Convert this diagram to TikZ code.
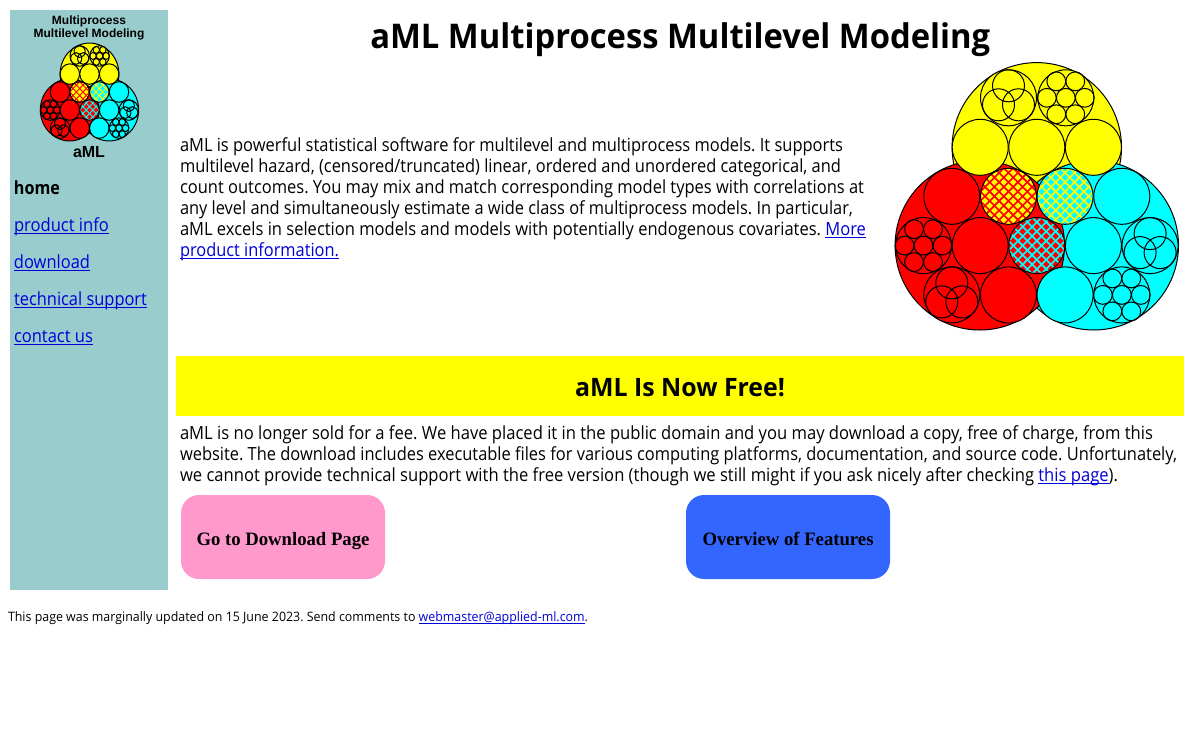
\documentclass[tikz,border=0pt]{standalone}
\usepackage{fontspec}
\setmainfont{Open Sans}
\newfontfamily\hdfont{Liberation Sans}
\newfontfamily\btnfont{Liberation Serif}
\frenchspacing
\definecolor{panel}{HTML}{99CCCC}
\definecolor{linkblue}{HTML}{0000D8}
\definecolor{btnpink}{HTML}{FF99CC}
\definecolor{btnblue}{HTML}{3366FF}
\definecolor{logored}{HTML}{FF0000}
\definecolor{logoyel}{HTML}{FFFF00}
\definecolor{logocya}{HTML}{00FFFF}
\newlength{\fitw}
\newlength{\lnkw}
% text fitted to a target width in px
\newcommand{\fit}[2]{\settowidth{\fitw}{#2}%
  \pgfmathsetmacro{\fitr}{#1*0.75pt/\fitw}\scalebox{\fitr}[1]{#2}}
\newcommand{\lnk}[1]{{\color{linkblue}\settowidth{\lnkw}{#1}\rlap{#1}\rule[-2.2pt]{\lnkw}{0.75pt}}}
\tikzset{
  x=0.75pt,y=-0.75pt,
  txt/.style={anchor=base west,inner sep=0pt,outer sep=0pt,font=\fontsize{13.6pt}{16pt}\selectfont},
  nav/.style={txt},
  foot/.style={anchor=base west,inner sep=0pt,outer sep=0pt,font=\fontsize{9.75pt}{12pt}\selectfont},
  ring/.style={draw=black,line width=0.75pt},
  hd/.style={anchor=center,inner sep=0pt,font=\hdfont\bfseries\fontsize{9pt}{11pt}\selectfont,text=black},
  btn/.style={rounded corners=13.5pt,minimum width=153pt,minimum height=63pt,inner sep=0pt,draw=none,
     text height=12pt,text depth=0pt,
     font=\btnfont\bfseries\fontsize{14.2pt}{16pt}\selectfont},
}
\newcommand{\disc}[4]{\fill[#4] (#1,#2) circle[radius=#3]; \draw[ring] (#1,#2) circle[radius=#3];}
\newcommand{\trio}[3]{%
  \begin{scope}[shift={(#1,#2)}]
  \disc{0}{0}{28}{#3}
  \draw[ring] (0,-12) circle[radius=16] (-10,7) circle[radius=16] (10,7) circle[radius=16];
  \end{scope}}
\newcommand{\seven}[3]{%
  \begin{scope}[shift={(#1,#2)}]
  \disc{0}{0}{28}{#3}
  \foreach \a in {0,60,...,300}{\draw[ring] (\a:19) circle[radius=9.4];}
  \draw[ring] (0,0) circle[radius=9.4];
  \end{scope}}
\newcommand{\checker}[6]{% x,y,bg,fg,half cell,diamond half-diagonal
  \begin{scope}[shift={(#1,#2)}]
  \begin{scope}
  \clip (0,0) circle[radius=28];
  \fill[#3] (-29,-29) rectangle (29,29);
  \foreach \i in {-7,...,7}{\foreach \j in {-7,...,7}{
     \fill[#4] (\i*#5*2-#6,\j*#5*2) -- ++(#6,-#6) -- ++(#6,#6) -- ++(-#6,#6) -- cycle;
     \fill[#4] (\i*#5*2+#5-#6,\j*#5*2+#5) -- ++(#6,-#6) -- ++(#6,#6) -- ++(-#6,#6) -- cycle;}}
  \end{scope}
  \draw[ring] (0,0) circle[radius=28];
  \end{scope}}
\newcommand{\logo}[2]{%
  \disc{0}{-49}{84.7}{logoyel}
  \disc{57}{49}{84.7}{logocya}
  \disc{-57}{49}{84.7}{logored}
  \trio{-28.3}{-98.5}{logoyel}
  \seven{29}{-98.5}{logoyel}
  \disc{-56.6}{-49}{28}{logoyel}
  \disc{0}{-49}{28}{logoyel}
  \disc{56.6}{-49}{28}{logoyel}
  \disc{-85}{0}{28}{logored}
  \checker{-28.3}{0}{logored}{logoyel}{#1}{#2}
  \checker{28.3}{0}{logoyel}{logocya}{#1}{#2}
  \disc{85}{0}{28}{logocya}
  \seven{-113.3}{49.3}{logored}
  \disc{-56.6}{49.3}{28}{logored}
  \checker{0}{49.3}{logocya}{logored}{#1}{#2}
  \disc{56.6}{49.3}{28}{logocya}
  \trio{113.3}{49.3}{logocya}
  \trio{-85}{98.6}{logored}
  \disc{-28.3}{98.6}{28}{logored}
  \disc{28.3}{98.6}{28}{logocya}
  \seven{85}{98.6}{logocya}
}
\begin{document}
\begin{tikzpicture}
\useasboundingbox (0,0) rectangle (1200,740);
\fill[white] (0,0) rectangle (1200,740);
\fill[panel] (10,10) rectangle (168,590);
\node[hd] (t1) at (89,21) {Multiprocess};
\node[hd] (t2) at (89,34.5) {Multilevel Modeling};
\node[hd,font=\hdfont\bfseries\fontsize{12pt}{14pt}\selectfont] (t3) at (89,152) {aML};
\begin{scope}[shift={(89.5,92)},xscale=0.347,yscale=0.366]
\logo{9.5}{7}
\end{scope}
\begin{scope}[shift={(1036.8,196.3)}]
\logo{4.7}{3.3}
\end{scope}
\node[txt,font=\bfseries\fontsize{13.6pt}{16pt}\selectfont] (n1) at (14,194) {\fit{46}{home}};
\node[nav] (n2) at (14,231) {\fit{95}{\lnk{product info}}};
\node[nav] (n3) at (14,268) {\fit{76}{\lnk{download}}};
\node[nav] (n4) at (14,305) {\fit{133}{\lnk{technical support}}};
\node[nav] (n5) at (14,342) {\fit{79}{\lnk{contact us}}};
\node[anchor=base west,inner sep=0pt,font=\bfseries\fontsize{25.5pt}{30pt}\selectfont] (title) at (370,48) {\fit{620}{aML Multiprocess Multilevel Modeling}};
\node[txt] (p1) at (180,151) {\fit{663}{aML is powerful statistical software for multilevel and multiprocess models. It supports}};
\node[txt] (p2) at (180,172) {\fit{661}{multilevel hazard, (censored/truncated) linear, ordered and unordered categorical, and}};
\node[txt] (p3) at (180,193) {\fit{684}{count outcomes. You may mix and match corresponding model types with correlations at}};
\node[txt] (p4) at (180,214) {\fit{673}{any level and simultaneously estimate a wide class of multiprocess models. In particular,}};
\node[txt] (p5) at (180,235) {\fit{686}{aML excels in selection models and models with potentially endogenous covariates. \lnk{More}}};
\node[txt] (p6) at (180,256) {\fit{159}{\lnk{product information.}}};
\fill[logoyel] (176,356) rectangle (1184,416);
\node[anchor=base,inner sep=0pt,font=\bfseries\fontsize{19pt}{22pt}\selectfont] (free) at (680,396) {\fit{210}{aML Is Now Free!}};
\node[txt] (q1) at (180,439) {\fit{973}{aML is no longer sold for a fee. We have placed it in the public domain and you may download a copy, free of charge, from this}};
\node[txt] (q2) at (180,460) {\fit{997}{website. The download includes executable files for various computing platforms, documentation, and source code. Unfortunately,}};
\node[txt] (q3) at (180,481) {\fit{938}{we cannot provide technical support with the free version (though we still might if you ask nicely after checking \lnk{this page}).}};
\node[btn,fill=btnpink] (b1) at (283,537) {\fit{173}{Go to Download Page}};
\node[btn,fill=btnblue] (b2) at (788,537) {\fit{171}{Overview of Features}};
\node[foot] (foot) at (8,621) {\fit{580}{This page was marginally updated on 15 June 2023. Send comments to \lnk{webmaster@applied-ml.com}.}};
\end{tikzpicture}
\end{document}
